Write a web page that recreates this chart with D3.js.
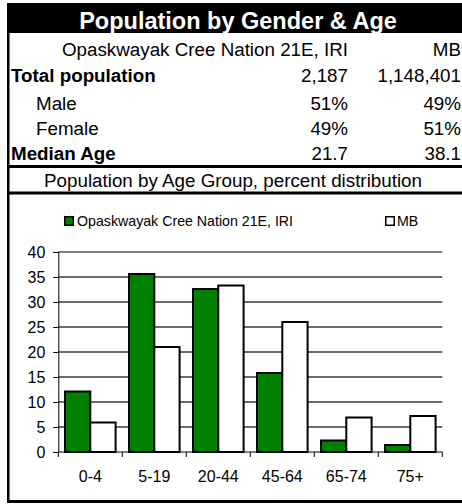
<!DOCTYPE html>
<html>
<head>
<meta charset="utf-8">
<script src="https://cdn.jsdelivr.net/npm/d3@7/dist/d3.min.js"></script>
<style>
  html, body { margin: 0; padding: 0; background: #fff; }
  svg { display: block; font-family: "Liberation Sans", Arial, sans-serif; }
</style>
</head>
<body>
<svg id="chart" width="462" height="504"></svg>
<script>
// ---- data ----
const title = "Population by Gender & Age";
const colHeaders = ["Opaskwayak Cree Nation 21E, IRI", "MB"];
const rowLabels = ["Total population", "Male", "Female", "Median Age"];
const rowBold = [true, false, false, true];
const col1Values = ["2,187", "51%", "49%", "21.7"];
const col2Values = ["1,148,401", "49%", "51%", "38.1"];
const chartTitle = "Population by Age Group, percent distribution";
const categories = ["0-4", "5-19", "20-44", "45-64", "65-74", "75+"];
const seriesNames = ["Opaskwayak Cree Nation 21E, IRI", "MB"];
const seriesColors = ["#008000", "#ffffff"];
const iriValues = [12.1, 35.6, 32.6, 15.8, 2.3, 1.4];
const mbValues = [5.9, 21.0, 33.3, 26.0, 6.9, 7.2];
const yTicks = [0, 5, 10, 15, 20, 25, 30, 35, 40];

const svg = d3.select("#chart");

// ---- frame ----
svg.append("rect").attr("x", 7).attr("y", 3).attr("width", 462 - 7).attr("height", 30).attr("fill", "#000");
svg.append("text").attr("x", 238).attr("y", 29).attr("text-anchor", "middle")
  .attr("fill", "#fff").attr("font-weight", "bold").attr("font-size", 23.5).text(title);

// left border
svg.append("rect").attr("x", 7).attr("y", 3).attr("width", 2.5).attr("height", 500).attr("fill", "#000");
// horizontal lines
svg.append("rect").attr("x", 7).attr("y", 165).attr("width", 455).attr("height", 3).attr("fill", "#000");
svg.append("rect").attr("x", 7).attr("y", 191.5).attr("width", 455).attr("height", 3).attr("fill", "#000");
svg.append("rect").attr("x", 7).attr("y", 500).attr("width", 455).attr("height", 3).attr("fill", "#000");

// ---- table ----
const fs = 18.8;
const c1x = 348, c2x = 461;
svg.append("text").attr("x", c1x).attr("y", 55.5).attr("text-anchor", "end").attr("font-size", fs).text(colHeaders[0]);
svg.append("text").attr("x", c2x).attr("y", 55.5).attr("text-anchor", "end").attr("font-size", fs).text(colHeaders[1]);
const rowY = [82, 109.5, 135, 160];
rowLabels.forEach((lab, i) => {
  svg.append("text").attr("x", rowBold[i] ? 11 : 36).attr("y", rowY[i])
    .attr("font-size", fs).attr("font-weight", rowBold[i] ? "bold" : "normal").text(lab);
  svg.append("text").attr("x", c1x).attr("y", rowY[i]).attr("text-anchor", "end").attr("font-size", fs).text(col1Values[i]);
  svg.append("text").attr("x", c2x).attr("y", rowY[i]).attr("text-anchor", "end").attr("font-size", fs).text(col2Values[i]);
});
svg.append("text").attr("x", 233).attr("y", 186.5).attr("text-anchor", "middle").attr("font-size", fs).text(chartTitle);

// ---- chart ----
const x0 = d3.scaleBand().domain(categories).range([58.3, 442.3]).paddingInner(0).paddingOuter(0);
const x1 = d3.scaleBand().domain(seriesNames).range([0, x0.bandwidth()]).paddingInner(0).paddingOuter(0.265);
const y = d3.scaleLinear().domain([0, 40]).range([452, 252]);

// gridlines
svg.append("g").selectAll("line").data(yTicks.filter(d => d > 0)).join("line")
  .attr("x1", 58.3).attr("x2", 442.3)
  .attr("y1", d => y(d)).attr("y2", d => y(d))
  .attr("stroke", d => d === 40 ? "#000" : "#3a3a3a").attr("stroke-width", d => d === 40 ? 1 : 1.3);

// y axis
const yAxis = svg.append("g").attr("transform", "translate(58.3,0)")
  .call(d3.axisLeft(y).tickValues(yTicks).tickSize(5).tickPadding(8).tickFormat(d3.format("d")));
yAxis.select(".domain").attr("stroke", "#000").attr("stroke-width", 1);
yAxis.selectAll(".tick line").attr("stroke", "#000");
yAxis.selectAll("text").attr("font-size", 16).attr("fill", "#000").attr("font-family", "Liberation Sans, Arial, sans-serif");

// bars
const seriesData = [iriValues, mbValues];
const groups = svg.append("g").selectAll("g").data(categories).join("g")
  .attr("transform", d => `translate(${x0(d)},0)`);
groups.selectAll("rect").data((c, ci) => seriesNames.map((s, si) => ({ s, v: seriesData[si][ci], si })))
  .join("rect")
  .attr("x", d => x1(d.s))
  .attr("width", x1.bandwidth())
  .attr("y", d => y(d.v))
  .attr("height", d => y(0) - y(d.v))
  .attr("fill", d => seriesColors[d.si])
  .attr("stroke", "#000").attr("stroke-width", 2);

// x axis
const xAxisG = svg.append("g").attr("transform", "translate(0,452)");
xAxisG.append("line").attr("x1", 58.3).attr("x2", 442.3).attr("y1", 0).attr("y2", 0).attr("stroke", "#000");
const bounds = categories.map(c => x0(c)).concat([x0.range()[1]]);
xAxisG.selectAll("line.tk").data(bounds).join("line").attr("class", "tk")
  .attr("x1", d => d).attr("x2", d => d).attr("y1", 0).attr("y2", 5).attr("stroke", "#000");
xAxisG.selectAll("text").data(categories).join("text")
  .attr("x", d => x0(d) + x0.bandwidth() / 2).attr("y", 30)
  .attr("text-anchor", "middle").attr("font-size", 16).text(d => d);

// legend
const legend = [{ x: 64, tx: 77 }, { x: 385, tx: 397 }];
seriesNames.forEach((s, i) => {
  svg.append("rect").attr("x", legend[i].x + 0.75).attr("y", 216.75).attr("width", 8.5).attr("height", 8.5)
    .attr("fill", seriesColors[i]).attr("stroke", "#000").attr("stroke-width", 1.5);
  svg.append("text").attr("x", legend[i].tx).attr("y", 226).attr("font-size", 14.2).attr("fill", "#000").text(s);
});
</script>
</body>
</html>
